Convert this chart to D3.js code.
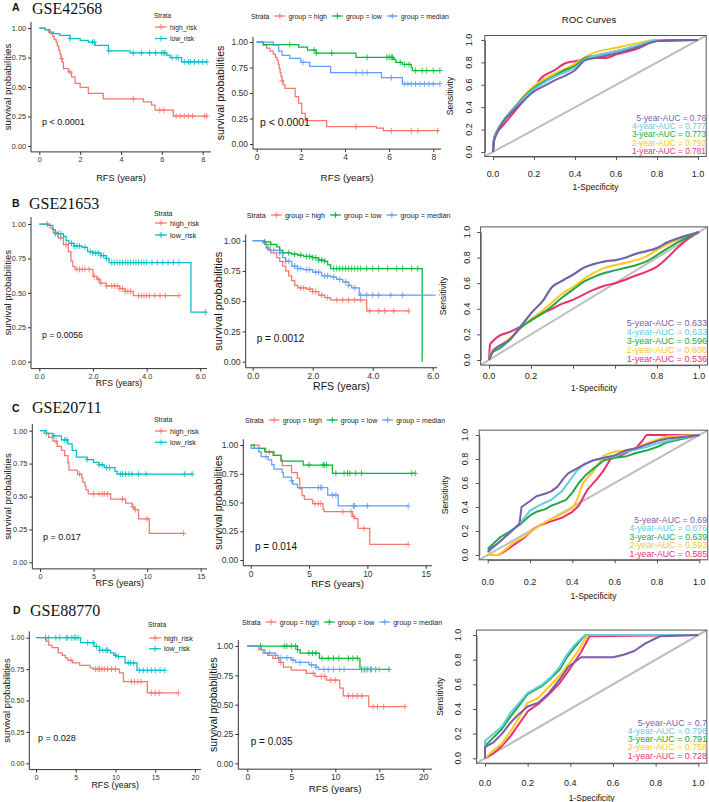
<!DOCTYPE html>
<html><head><meta charset="utf-8">
<script src="https://cdn.jsdelivr.net/npm/d3@7"></script>
<style>body{margin:0;background:#fff}svg{display:block}</style>
</head><body>
<script>
// ======================= DATA =======================
const panelLetters = ["A","B","C","D"];
const datasetNames = ["GSE42568","GSE21653","GSE20711","GSE88770"];
const pValueRisk  = ["p < 0.0001","p = 0.0056","p = 0.017","p = 0.028"];
const pValueGroup = ["p < 0.0001","p = 0.0012","p = 0.014","p = 0.035"];
const rfsTicks = [[0,2,4,6,8],[0,2,4,6],[0,5,10,15],[0,5,10,15,20]];
const survTicks = [0,0.25,0.5,0.75,1];
const rocTicks = [0,0.2,0.4,0.6,0.8,1];
const riskStrata = ["high_risk","low_risk"];
const groupStrata = ["group = high","group = low","group = median"];
const aucYears = ["5-year","4-year","3-year","2-year","1-year"];
const aucA = [0.76,0.777,0.773,0.792,0.781];
const aucB = [0.633,0.633,0.596,0.606,0.536];
const aucC = [0.69,0.676,0.639,0.593,0.585];
const aucD = [0.7,0.798,0.791,0.758,0.728];

// Kaplan-Meier: [time, survival after drop]; censor times; last follow-up time
const kmA_high = [[0.28,0.986],[0.44,0.966],[0.52,0.952],[0.65,0.93],[0.73,0.904],[0.82,0.88],[0.88,0.85],[0.95,0.81],[1.01,0.78],[1.06,0.74],[1.13,0.71],[1.18,0.656],[1.42,0.628],[1.58,0.586],[1.75,0.53],[2.0,0.496],[2.4,0.445],[3.13,0.40],[5.1,0.375],[5.5,0.346],[5.67,0.304],[6.56,0.254]];
const kmA_high_cens = [1.1,1.5,4.6,5.9,6.1,6.7,6.9,7.1,7.3,7.5,8.1,8.2];
const kmA_high_end = 8.25;
const kmA_low = [[0.28,0.986],[0.52,0.966],[0.7,0.952],[1.0,0.938],[1.5,0.91],[2.0,0.896],[2.4,0.88],[2.73,0.853],[3.38,0.806],[4.44,0.789],[6.24,0.77],[6.4,0.75],[6.97,0.713]];
const kmA_low_cens = [1.5,2.6,2.7,3.4,4.6,5.0,5.4,5.7,6.0,6.1,6.15,6.5,6.7,6.8,7.1,7.3,7.4,7.6,7.8,8.0,8.2];
const kmA_low_end = 8.25;
const kmA_gHigh = [[0.3,0.97],[0.45,0.94],[0.6,0.91],[0.75,0.88],[0.85,0.85],[0.92,0.82],[0.98,0.78],[1.02,0.74],[1.06,0.70],[1.1,0.66],[1.15,0.62],[1.2,0.58],[1.28,0.545],[1.74,0.464],[1.9,0.40],[2.04,0.30],[2.2,0.23],[3.17,0.17],[5.43,0.155],[5.74,0.13]];
const kmA_gHigh_cens = [1.15,4.5,6.1,7.0,7.3,8.2];
const kmA_gHigh_end = 8.25;
const kmA_gLow = [[0.3,0.975],[1.9,0.95],[2.3,0.92],[2.7,0.89],[4.5,0.85],[6.2,0.83],[6.3,0.80],[6.6,0.78],[7.0,0.75],[7.05,0.72]];
const kmA_gLow_cens = [1.5,2.6,2.7,3.4,5.0,5.9,6.0,6.1,6.15,6.5,6.7,6.9,7.2,7.5,7.7,8.0,8.3];
const kmA_gLow_end = 8.3;
const kmA_gMed = [[0.75,0.97],[1.0,0.91],[1.15,0.87],[1.5,0.84],[2.0,0.80],[2.4,0.76],[3.35,0.70],[5.65,0.65],[6.6,0.59]];
const kmA_gMed_cens = [2.1,4.5,4.8,5.0,6.1,6.7,6.85,7.0,7.2,7.4,7.6,7.8,8.0,8.3];
const kmA_gMed_end = 8.3;

const kmB_high = [[0.4,0.97],[0.52,0.94],[0.7,0.90],[0.9,0.85],[1.08,0.80],[1.18,0.73],[1.25,0.69],[1.33,0.67],[2.0,0.62],[2.14,0.60],[2.26,0.57],[2.5,0.55],[3.0,0.53],[3.2,0.51],[3.5,0.48]];
const kmB_high_cens = [0.3,0.8,1.0,1.4,1.5,1.6,1.7,1.85,2.05,2.2,2.3,2.5,2.7,2.8,2.9,3.0,3.1,3.2,3.3,3.4,3.7,3.8,3.9,4.0,4.1,4.3,4.5,4.7,5.2];
const kmB_high_end = 5.2;
const kmB_low = [[0.3,0.99],[0.5,0.96],[0.6,0.93],[0.9,0.91],[1.0,0.88],[1.1,0.86],[1.3,0.84],[1.6,0.83],[1.8,0.80],[2.0,0.79],[2.3,0.77],[2.5,0.75],[2.6,0.72],[5.65,0.36]];
const kmB_low_cens = [0.6,0.7,0.8,1.2,1.3,1.4,1.5,1.7,1.9,2.0,2.1,2.2,2.3,2.4,2.5,2.7,2.8,2.9,3.0,3.1,3.2,3.3,3.4,3.5,3.6,3.7,3.8,3.9,4.0,4.2,4.4,4.6,4.8,5.0,5.2,6.2];
const kmB_low_end = 6.2;
const kmB_gHigh = [[0.4,0.97],[0.5,0.93],[0.6,0.90],[0.8,0.86],[0.9,0.83],[1.0,0.79],[1.1,0.75],[1.2,0.71],[1.3,0.67],[1.4,0.63],[1.5,0.61],[1.8,0.60],[2.0,0.58],[2.2,0.55],[2.4,0.53],[2.6,0.51],[3.8,0.42]];
const kmB_gHigh_cens = [1.6,1.7,1.9,2.0,2.1,2.3,2.5,2.8,3.0,3.2,3.4,3.6,3.9,4.2,4.4,4.7,5.2];
const kmB_gHigh_end = 5.2;
const kmB_gLow = [[0.35,0.99],[0.6,0.97],[0.8,0.95],[0.9,0.92],[1.0,0.90],[1.3,0.89],[1.5,0.88],[1.7,0.87],[2.0,0.86],[2.2,0.84],[2.4,0.83],[2.5,0.80],[2.6,0.77],[5.65,0]];
const kmB_gLow_cens = [0.4,0.6,0.9,1.0,1.2,1.4,1.6,1.8,1.9,2.0,2.1,2.2,2.3,2.4,2.7,2.8,2.9,3.0,3.1,3.2,3.3,3.4,3.5,3.6,3.8,4.0,4.2,4.5,4.8,5.0,5.3,5.5];
const kmB_gLow_end = 5.65;
const kmB_gMed = [[0.35,0.98],[0.45,0.94],[0.55,0.92],[0.9,0.90],[1.0,0.86],[1.1,0.83],[1.3,0.79],[1.5,0.77],[1.7,0.76],[2.0,0.74],[2.3,0.71],[2.6,0.70],[2.8,0.68],[3.0,0.66],[3.2,0.63],[3.3,0.61],[3.55,0.55]];
const kmB_gMed_cens = [0.5,0.7,0.9,1.1,1.2,1.4,1.5,1.6,1.8,1.9,2.1,2.2,2.4,2.5,2.7,2.9,3.1,3.2,3.4,3.6,3.8,4.0,4.2,4.6,5.0];
const kmB_gMed_end = 6.1;

const kmC_high = [[0.4,0.98],[0.8,0.95],[1.2,0.92],[1.6,0.88],[2.0,0.85],[2.3,0.81],[2.6,0.76],[2.7,0.70],[3.5,0.67],[3.9,0.64],[4.0,0.61],[4.2,0.58],[4.3,0.55],[4.5,0.52],[6.6,0.48],[8.0,0.45],[8.6,0.42],[8.8,0.40],[9.2,0.33],[10.2,0.22]];
const kmC_high_cens = [1.5,3.7,5.0,5.5,5.8,6.0,6.3,7.7,8.7,8.9,10.0,13.4];
const kmC_high_end = 13.5;
const kmC_low = [[0.6,0.98],[1.2,0.96],[2.0,0.93],[2.6,0.90],[3.0,0.85],[3.4,0.80],[4.4,0.78],[5.0,0.76],[5.5,0.74],[6.0,0.72],[7.0,0.69],[7.2,0.67]];
const kmC_low_cens = [0.6,1.3,2.3,2.5,4.4,5.5,5.8,6.2,6.5,7.5,7.7,8.0,8.3,8.6,9.2,9.9,13.5,14.2];
const kmC_low_end = 14.2;
const kmC_gHigh = [[0.7,0.97],[1.3,0.94],[1.9,0.91],[2.6,0.87],[2.7,0.82],[3.5,0.76],[4.0,0.71],[4.2,0.62],[4.4,0.56],[4.6,0.527],[5.3,0.49],[6.2,0.44],[6.3,0.42],[8.7,0.38],[8.9,0.36],[9.2,0.275],[10.2,0.136]];
const kmC_gHigh_cens = [1.6,5.5,5.8,6.0,7.9,8.6,8.8,9.7,13.5];
const kmC_gHigh_end = 13.5;
const kmC_gLow = [[0.3,0.97],[1.2,0.94],[2.0,0.91],[2.6,0.86],[4.5,0.826],[7.0,0.754]];
const kmC_gLow_cens = [5.0,6.2,6.3,6.5,7.3,8.0,8.3,8.5,9.0,9.5,13.8,14.1];
const kmC_gLow_end = 14.1;
const kmC_gMed = [[0.05,0.97],[0.7,0.94],[0.9,0.90],[1.5,0.87],[1.8,0.83],[2.0,0.79],[2.7,0.76],[2.8,0.72],[3.5,0.69],[3.6,0.66],[4.0,0.63],[6.6,0.565],[7.5,0.47]];
const kmC_gMed_cens = [1.3,3.5,5.8,6.0,6.1,7.0,7.3,8.8,8.9,10.0,13.5];
const kmC_gMed_end = 13.5;

const kmD_high = [[1.3,0.97],[1.6,0.94],[2.0,0.92],[2.8,0.88],[3.3,0.86],[3.7,0.84],[4.0,0.82],[4.6,0.80],[5.5,0.78],[6.8,0.76],[7.2,0.75],[10.5,0.72],[11.0,0.65],[14.0,0.56]];
const kmD_high_cens = [4.4,7.5,7.8,8.0,8.3,8.6,9.0,9.5,10.0,12.0,12.4,12.8,13.2,14.5,15.0,15.5,17.9];
const kmD_high_end = 17.9;
const kmD_low = [[5.6,0.96],[7.3,0.93],[8.0,0.90],[9.4,0.88],[9.8,0.86],[10.2,0.85],[11.2,0.80],[12.7,0.74]];
const kmD_low_cens = [1.2,1.6,2.5,3.0,3.8,4.0,4.5,4.8,5.0,5.3,6.5,7.2,7.6,8.0,8.4,8.8,9.0,10.0,10.4,11.6,11.9,12.3,13.0,13.5,14.0,14.5,15.0,15.6,16.2];
const kmD_low_end = 16.2;
const kmD_gHigh = [[1.3,0.97],[1.8,0.94],[2.3,0.92],[2.9,0.895],[3.6,0.86],[4.1,0.82],[5.0,0.795],[6.7,0.767],[7.7,0.74],[9.0,0.71],[10.5,0.64],[10.9,0.574],[13.8,0.483]];
const kmD_gHigh_cens = [3.8,7.5,8.4,8.8,9.5,10.0,11.5,12.0,12.5,13.0,14.3,14.8,15.5,17.9];
const kmD_gHigh_end = 17.9;
const kmD_gLow = [[5.7,0.97],[6.0,0.94],[8.2,0.895],[12.8,0.80]];
const kmD_gLow_cens = [1.5,4.2,4.5,5.0,5.5,5.7,7.0,7.4,7.8,8.5,9.2,9.8,10.4,11.5,12.0,12.5,13.0,13.3,13.7,14.1,14.6,16.1];
const kmD_gLow_end = 16.1;
const kmD_gMed = [[1.6,0.97],[2.0,0.94],[3.2,0.92],[3.5,0.90],[5.0,0.88],[5.5,0.86],[7.0,0.84],[7.8,0.82],[8.1,0.80]];
const kmD_gMed_cens = [2.5,3.2,3.8,4.5,5.2,6.0,7.3,7.8,8.7,9.2,9.8,10.5,11.0,13.0,13.5,14.0,15.0];
const kmD_gMed_end = 15.0;

// ROC curves: [1-specificity, sensitivity]
const rocA_5 = [[0,0],[0.005,0.1],[0.02,0.17],[0.05,0.27],[0.1,0.37],[0.15,0.46],[0.2,0.54],[0.25,0.59],[0.3,0.64],[0.35,0.68],[0.4,0.73],[0.45,0.82],[0.5,0.84],[0.6,0.88],[0.7,0.93],[0.8,0.99],[0.9,1.0],[1,1]];
const rocA_4 = [[0,0],[0.005,0.12],[0.02,0.18],[0.05,0.28],[0.1,0.38],[0.15,0.48],[0.2,0.56],[0.25,0.62],[0.3,0.67],[0.35,0.71],[0.4,0.75],[0.45,0.83],[0.5,0.86],[0.6,0.90],[0.7,0.95],[0.8,1.0],[1,1]];
const rocA_3 = [[0,0],[0.005,0.12],[0.02,0.19],[0.05,0.28],[0.1,0.39],[0.15,0.49],[0.2,0.57],[0.25,0.63],[0.3,0.68],[0.35,0.73],[0.4,0.77],[0.45,0.84],[0.5,0.86],[0.6,0.90],[0.7,0.94],[0.8,0.99],[1,1]];
const rocA_2 = [[0,0],[0.005,0.12],[0.02,0.18],[0.05,0.27],[0.1,0.38],[0.15,0.50],[0.2,0.59],[0.25,0.65],[0.3,0.70],[0.35,0.74],[0.4,0.79],[0.45,0.85],[0.5,0.89],[0.6,0.93],[0.7,0.97],[0.8,1.0],[1,1]];
const rocA_1 = [[0,0],[0.005,0.1],[0.02,0.17],[0.05,0.24],[0.1,0.35],[0.15,0.46],[0.2,0.56],[0.23,0.65],[0.3,0.73],[0.35,0.79],[0.4,0.81],[0.45,0.83],[0.5,0.84],[0.55,0.84],[0.6,0.87],[0.7,0.92],[0.8,0.99],[1,1]];

const rocB_5 = [[0,0],[0.02,0.07],[0.1,0.16],[0.15,0.26],[0.2,0.365],[0.26,0.47],[0.3,0.57],[0.35,0.62],[0.4,0.667],[0.45,0.72],[0.5,0.75],[0.55,0.77],[0.6,0.78],[0.65,0.80],[0.7,0.83],[0.75,0.85],[0.8,0.875],[0.85,0.92],[0.9,0.95],[1,1]];
const rocB_4 = [[0,0],[0.02,0.07],[0.1,0.16],[0.15,0.26],[0.2,0.365],[0.26,0.47],[0.3,0.57],[0.35,0.62],[0.4,0.667],[0.45,0.72],[0.5,0.75],[0.55,0.77],[0.6,0.78],[0.65,0.80],[0.7,0.83],[0.75,0.85],[0.8,0.875],[0.85,0.92],[0.9,0.95],[1,1]];
const rocB_3 = [[0,0],[0.01,0.05],[0.05,0.09],[0.1,0.16],[0.15,0.25],[0.2,0.31],[0.25,0.36],[0.3,0.42],[0.35,0.49],[0.4,0.55],[0.45,0.61],[0.5,0.65],[0.55,0.68],[0.6,0.70],[0.65,0.72],[0.7,0.74],[0.75,0.77],[0.8,0.82],[0.9,0.92],[1,1]];
const rocB_2 = [[0,0],[0.01,0.07],[0.05,0.11],[0.1,0.17],[0.15,0.25],[0.2,0.32],[0.25,0.38],[0.3,0.45],[0.35,0.52],[0.4,0.57],[0.45,0.63],[0.5,0.68],[0.55,0.72],[0.6,0.74],[0.65,0.76],[0.7,0.78],[0.75,0.81],[0.8,0.86],[0.9,0.94],[1,1]];
const rocB_1 = [[0,0],[0.005,0.12],[0.02,0.15],[0.05,0.19],[0.1,0.22],[0.15,0.26],[0.2,0.31],[0.25,0.36],[0.3,0.40],[0.35,0.44],[0.4,0.47],[0.45,0.51],[0.5,0.55],[0.55,0.58],[0.6,0.60],[0.7,0.66],[0.75,0.69],[0.8,0.73],[0.85,0.80],[0.9,0.88],[0.95,0.95],[1,1]];

const rocC_5 = [[0,0.03],[0.02,0.06],[0.05,0.1],[0.1,0.18],[0.15,0.26],[0.16,0.4],[0.2,0.45],[0.23,0.49],[0.27,0.51],[0.3,0.53],[0.33,0.57],[0.36,0.64],[0.38,0.68],[0.41,0.71],[0.45,0.75],[0.5,0.79],[0.55,0.81],[0.6,0.83],[0.65,0.87],[0.7,0.89],[0.75,0.92],[0.8,0.95],[0.85,0.97],[0.9,0.98],[1,1]];
const rocC_4 = [[0,0.02],[0.05,0.1],[0.1,0.18],[0.15,0.26],[0.2,0.37],[0.25,0.42],[0.3,0.46],[0.35,0.53],[0.38,0.6],[0.42,0.7],[0.46,0.76],[0.5,0.79],[0.55,0.81],[0.6,0.82],[0.65,0.86],[0.7,0.88],[0.75,0.9],[0.8,0.93],[0.85,0.95],[0.9,0.97],[1,1]];
const rocC_3 = [[0,0.05],[0.03,0.1],[0.06,0.15],[0.1,0.19],[0.15,0.25],[0.2,0.33],[0.23,0.36],[0.27,0.38],[0.3,0.41],[0.33,0.43],[0.37,0.46],[0.4,0.52],[0.43,0.6],[0.46,0.66],[0.5,0.72],[0.55,0.79],[0.6,0.81],[0.65,0.82],[0.7,0.85],[0.75,0.87],[0.8,0.9],[0.85,0.94],[0.9,0.96],[0.95,0.98],[1,1]];
const rocC_2 = [[0,0],[0.05,0],[0.08,0.04],[0.12,0.1],[0.17,0.15],[0.2,0.19],[0.25,0.25],[0.3,0.3],[0.35,0.34],[0.4,0.39],[0.42,0.45],[0.45,0.6],[0.5,0.7],[0.55,0.83],[0.6,0.86],[0.65,0.87],[0.7,0.89],[0.75,0.93],[0.8,0.96],[0.85,0.99],[1,1]];
const rocC_1 = [[0,0],[0.05,0],[0.08,0.03],[0.12,0.08],[0.17,0.14],[0.22,0.22],[0.25,0.25],[0.3,0.28],[0.35,0.31],[0.4,0.36],[0.43,0.41],[0.47,0.54],[0.52,0.64],[0.55,0.71],[0.58,0.8],[0.63,0.83],[0.7,0.89],[0.73,0.95],[0.75,1.0],[1,1]];

const rocD_5 = [[0,0],[0,0.09],[0.04,0.13],[0.08,0.2],[0.12,0.29],[0.16,0.36],[0.2,0.42],[0.25,0.45],[0.3,0.53],[0.35,0.64],[0.39,0.74],[0.45,0.82],[0.5,0.82],[0.6,0.82],[0.65,0.84],[0.7,0.87],[0.75,0.93],[0.82,0.99],[1,1]];
const rocD_4 = [[0,0],[0,0.14],[0.04,0.2],[0.08,0.26],[0.12,0.37],[0.16,0.45],[0.2,0.53],[0.23,0.56],[0.27,0.6],[0.31,0.66],[0.35,0.74],[0.38,0.83],[0.42,0.92],[0.47,1.0],[1,1]];
const rocD_3 = [[0,0],[0,0.1],[0.04,0.17],[0.08,0.24],[0.12,0.34],[0.16,0.43],[0.2,0.52],[0.23,0.55],[0.27,0.59],[0.31,0.65],[0.35,0.72],[0.38,0.81],[0.42,0.9],[0.47,1.0],[1,1]];
const rocD_2 = [[0,0],[0.03,0.05],[0.08,0.12],[0.12,0.22],[0.16,0.33],[0.2,0.45],[0.25,0.49],[0.3,0.58],[0.35,0.67],[0.4,0.78],[0.44,0.88],[0.48,1.0],[1,1]];
const rocD_1 = [[0,0],[0.04,0.04],[0.08,0.1],[0.12,0.18],[0.16,0.28],[0.2,0.38],[0.25,0.44],[0.3,0.52],[0.35,0.61],[0.4,0.73],[0.45,0.86],[0.49,0.99],[1,1]];

// ======================= STYLE / LAYOUT =======================
const SANS = '"Liberation Sans", Arial, Helvetica, sans-serif';
const SERIF = '"Liberation Serif", "Times New Roman", serif';
const riskColors = ["#F8766D","#00BFC4"];
const groupColors = ["#F8766D","#00BA38","#619CFF"];
const rocColors = ["#7B5EA7","#63CCE0","#22A847","#FFC61E","#E8316C"];

const layout = [
 { letter:[12,11], title:[32,13.5],
   km1:{ax:31,x0:39.3,xt:202.7,xEnd:211,y1:28,y0:146,yl:7,xl:178,p:[42,122],leg:{x:154,y:15,first:27,dy:11.5},fs:{tick:7.3,xlab:9.2,ylab:9.6,p:9,leg:6.7}},
   km2:{ax:253,x0:256.7,xt:433.3,xEnd:441,y1:42,y0:144,yl:220,xl:177,p:[260,122],leg:{x:251,y:16},fs:{tick:8.5,xlab:9.8,ylab:10.5,p:10.5,leg:6.9}},
   roc:{x0:493,x1:698,y0:152,y1:40,title:[589,19],xlabY:174,specY:187,ylabX:469,sensX:450,tickFs:9,labFs:8.5,legFs:8.3,legRight:706,legBottom:151,legStep:8.3,hide:[],smooth:true}},
 { letter:[12,207], title:[29,209],
   km1:{ax:31,x0:39.3,xt:200.3,xEnd:207,y1:224,y0:361.7,yl:7,xl:383,p:[42,335],leg:{x:154,y:213,first:223,dy:12},fs:{tick:7.3,xlab:8.6,ylab:9.5,p:8.6,leg:7.3}},
   km2:{ax:245.7,x0:252.7,xt:432.7,xEnd:437,y1:240.7,y0:361.7,yl:218,xl:386,p:[256.7,338],leg:{x:246.7,y:215},fs:{tick:8.7,xlab:10.5,ylab:11,p:10,leg:7.2}},
   roc:{x0:489,x1:699,y0:360,y1:232,title:null,xlabY:376,specY:388,ylabX:467,sensX:443,tickFs:9,labFs:8.5,legFs:9,legRight:707,legBottom:358.5,legStep:9,hide:[0.4,0.6],smooth:true}},
 { letter:[12,412], title:[32,413],
   km1:{ax:32.3,x0:40,xt:200.7,xEnd:207,y1:430.7,y0:562.3,yl:7,xl:583,p:[43,537],leg:{x:154,y:419,first:431,dy:11.3},fs:{tick:7.3,xlab:9,ylab:9.6,p:9,leg:7.2}},
   km2:{ax:243.3,x0:250.7,xt:425.7,xEnd:432,y1:445,y0:560,yl:218,xl:583,p:[255,546.7],leg:{x:245,y:420},fs:{tick:8.5,xlab:9.8,ylab:10.5,p:10,leg:7}},
   roc:{x0:487.7,x1:699.3,y0:555,y1:435,title:null,xlabY:582,specY:596,ylabX:465,sensX:445,tickFs:9,labFs:8.5,legFs:8.7,legRight:707,legBottom:554,legStep:8.6,hide:[],smooth:false}},
 { letter:[13,614], title:[30,616],
   km1:{ax:29.3,x0:36,xt:195,xEnd:201,y1:637.7,y0:763.3,yl:6,xl:785,p:[38,738],leg:{x:148,y:624,first:638,dy:10.7},fs:{tick:7,xlab:8.8,ylab:9.4,p:9,leg:7.2}},
   km2:{ax:238.3,x0:247.3,xt:423.3,xEnd:432,y1:646,y0:763.3,yl:213,xl:788,p:[250.7,741],leg:{x:242,y:622},fs:{tick:8.5,xlab:9.8,ylab:10.5,p:10,leg:7}},
   roc:{x0:485,x1:698.3,y0:758.3,y1:635,title:null,xlabY:783,specY:797.5,ylabX:458,sensX:440,tickFs:9,labFs:8.5,legFs:8.9,legRight:707,legBottom:755.5,legStep:8.1,hide:[],smooth:false}}
];

// ======================= ASSEMBLY =======================
const riskSeries = [
 [{steps:kmA_high,cens:kmA_high_cens,end:kmA_high_end},{steps:kmA_low,cens:kmA_low_cens,end:kmA_low_end}],
 [{steps:kmB_high,cens:kmB_high_cens,end:kmB_high_end},{steps:kmB_low,cens:kmB_low_cens,end:kmB_low_end}],
 [{steps:kmC_high,cens:kmC_high_cens,end:kmC_high_end},{steps:kmC_low,cens:kmC_low_cens,end:kmC_low_end}],
 [{steps:kmD_high,cens:kmD_high_cens,end:kmD_high_end},{steps:kmD_low,cens:kmD_low_cens,end:kmD_low_end}]
];
const groupSeries = [
 [{steps:kmA_gHigh,cens:kmA_gHigh_cens,end:kmA_gHigh_end},{steps:kmA_gLow,cens:kmA_gLow_cens,end:kmA_gLow_end},{steps:kmA_gMed,cens:kmA_gMed_cens,end:kmA_gMed_end}],
 [{steps:kmB_gHigh,cens:kmB_gHigh_cens,end:kmB_gHigh_end},{steps:kmB_gLow,cens:kmB_gLow_cens,end:kmB_gLow_end},{steps:kmB_gMed,cens:kmB_gMed_cens,end:kmB_gMed_end}],
 [{steps:kmC_gHigh,cens:kmC_gHigh_cens,end:kmC_gHigh_end},{steps:kmC_gLow,cens:kmC_gLow_cens,end:kmC_gLow_end},{steps:kmC_gMed,cens:kmC_gMed_cens,end:kmC_gMed_end}],
 [{steps:kmD_gHigh,cens:kmD_gHigh_cens,end:kmD_gHigh_end},{steps:kmD_gLow,cens:kmD_gLow_cens,end:kmD_gLow_end},{steps:kmD_gMed,cens:kmD_gMed_cens,end:kmD_gMed_end}]
];
const rocSeries = [
 [rocA_5,rocA_4,rocA_3,rocA_2,rocA_1],
 [rocB_5,rocB_4,rocB_3,rocB_2,rocB_1],
 [rocC_5,rocC_4,rocC_3,rocC_2,rocC_1],
 [rocD_5,rocD_4,rocD_3,rocD_2,rocD_1]
];
const aucValues = [aucA,aucB,aucC,aucD];

const svg = d3.select("body").append("svg").attr("width",709).attr("height",802);
svg.append("rect").attr("width",709).attr("height",802).attr("fill","#fff");

function survAt(steps,t){ let s=1; for(const d of steps){ if(d[0]<=t) s=d[1]; } return s; }
function cross(x,y,h,v){ return `M${x-h},${y}H${x+h}M${x},${y-v}V${y+v}`; }

function drawKM(cfg, xTicks, series, strata, colors, pLabel, legendTop){
  const g = svg.append("g");
  const fs = cfg.fs;
  const last = xTicks[xTicks.length-1];
  const x = d3.scaleLinear().domain([0,last]).range([cfg.x0,cfg.xt]);
  const y = d3.scaleLinear().domain([0,1]).range([cfg.y0,cfg.y1]);
  const ex = 0.05*(cfg.y0-cfg.y1);
  const top = cfg.y1-ex, xb = cfg.y0+ex;

  const xa = g.append("g").attr("transform",`translate(0,${xb})`)
    .call(d3.axisBottom(x).tickValues(xTicks).tickSize(3).tickPadding(2).tickSizeOuter(0));
  xa.select(".domain").remove();
  xa.attr("font-family",SANS).attr("font-size",fs.tick);
  xa.selectAll(".tick line").attr("stroke","#333");
  xa.selectAll("text").attr("fill","#333");
  g.append("line").attr("x1",cfg.ax).attr("x2",cfg.xEnd).attr("y1",xb).attr("y2",xb).attr("stroke","#333").attr("stroke-width",1);

  const ya = g.append("g").attr("transform",`translate(${cfg.ax},0)`)
    .call(d3.axisLeft(y).tickValues(survTicks).tickFormat(d3.format(".2f")).tickSize(3).tickPadding(2).tickSizeOuter(0));
  ya.select(".domain").remove();
  ya.attr("font-family",SANS).attr("font-size",fs.tick);
  ya.selectAll(".tick line").attr("stroke","#333");
  ya.selectAll("text").attr("fill","#333");
  g.append("line").attr("x1",cfg.ax).attr("x2",cfg.ax).attr("y1",top).attr("y2",xb).attr("stroke","#333").attr("stroke-width",1);

  g.append("text").attr("x",(cfg.ax+cfg.xEnd)/2).attr("y",cfg.xl).attr("text-anchor","middle")
    .attr("dominant-baseline","central").attr("font-family",SANS).attr("font-size",fs.xlab).attr("fill","#111").text("RFS (years)");
  g.append("text").attr("transform",`translate(${cfg.yl},${(top+xb)/2}) rotate(-90)`).attr("text-anchor","middle")
    .attr("dominant-baseline","central").attr("font-family",SANS).attr("font-size",fs.ylab).attr("fill","#111").text("survival probabilities");

  const line = d3.line().x(d=>x(d[0])).y(d=>y(d[1])).curve(d3.curveStepAfter);
  series.forEach((s,i)=>{
    const pts = [[0,1]].concat(s.steps);
    pts.push([s.end, pts[pts.length-1][1]]);
    g.append("path").attr("d",line(pts)).attr("fill","none").attr("stroke",colors[i]).attr("stroke-width",1.25);
    g.append("path").attr("d",s.cens.map(t=>cross(x(t),y(survAt(s.steps,t)),2.6,3)).join(""))
      .attr("fill","none").attr("stroke",colors[i]).attr("stroke-width",0.85);
  });

  g.append("text").attr("x",cfg.p[0]).attr("y",cfg.p[1]).attr("dominant-baseline","central")
    .attr("font-family",SANS).attr("font-size",fs.p).attr("fill","#111").text(pLabel);

  const lg = g.append("g").attr("font-family",SANS).attr("fill","#222");
  if(!legendTop){
    lg.append("text").attr("x",cfg.leg.x).attr("y",cfg.leg.y).attr("dominant-baseline","central").attr("font-size",fs.leg*0.95).text("Strata");
    strata.forEach((name,i)=>{
      const yy = cfg.leg.first + i*cfg.leg.dy, xx = cfg.leg.x+1;
      lg.append("line").attr("x1",xx).attr("x2",xx+12).attr("y1",yy).attr("y2",yy).attr("stroke",colors[i]).attr("stroke-width",1.2);
      lg.append("path").attr("d",cross(xx+6,yy,2.6,3)).attr("stroke",colors[i]).attr("stroke-width",0.9);
      lg.append("text").attr("x",xx+15).attr("y",yy).attr("dominant-baseline","central").attr("font-size",fs.leg).text(name);
    });
  } else {
    const t0 = lg.append("text").attr("x",cfg.leg.x).attr("y",cfg.leg.y).attr("dominant-baseline","central").attr("font-size",fs.leg).text("Strata");
    let cur = cfg.leg.x + t0.node().getComputedTextLength() + 5;
    strata.forEach((name,i)=>{
      const yy = cfg.leg.y;
      lg.append("line").attr("x1",cur).attr("x2",cur+11).attr("y1",yy).attr("y2",yy).attr("stroke",colors[i]).attr("stroke-width",1.2);
      lg.append("path").attr("d",cross(cur+5.5,yy,2.6,3)).attr("stroke",colors[i]).attr("stroke-width",0.9);
      const tt = lg.append("text").attr("x",cur+14).attr("y",yy).attr("dominant-baseline","central").attr("font-size",fs.leg).text(name);
      cur += 14 + tt.node().getComputedTextLength() + 5;
    });
  }
}

let clipId = 0;
function drawROC(cfg, curves, aucs){
  const g = svg.append("g");
  const x = d3.scaleLinear().domain([0,1]).range([cfg.x0,cfg.x1]);
  const y = d3.scaleLinear().domain([0,1]).range([cfg.y0,cfg.y1]);
  const left = x(-0.04), right = x(1.04), top = y(1.04), bottom = y(-0.04);
  const id = "clip"+(clipId++);
  svg.append("clipPath").attr("id",id).append("rect").attr("x",left).attr("y",top).attr("width",right-left).attr("height",bottom-top);
  const pg = g.append("g").attr("clip-path",`url(#${id})`);
  pg.append("line").attr("x1",x(-0.04)).attr("y1",y(-0.04)).attr("x2",x(1.04)).attr("y2",y(1.04))
    .attr("stroke","#BEBEBE").attr("stroke-width",2);
  const line = d3.line().x(d=>x(d[0])).y(d=>y(d[1])).curve(cfg.smooth ? d3.curveMonotoneX : d3.curveLinear);
  for(let i=curves.length-1;i>=0;i--){
    pg.append("path").attr("d",line(curves[i])).attr("fill","none").attr("stroke",rocColors[i])
      .attr("stroke-width",2).attr("stroke-linejoin","round");
  }
  g.append("rect").attr("x",left).attr("y",top).attr("width",right-left).attr("height",bottom-top)
    .attr("fill","none").attr("stroke","#555").attr("stroke-width",1);

  const xa = g.append("g").attr("transform",`translate(0,${bottom})`)
    .call(d3.axisBottom(x).tickValues(rocTicks).tickFormat("").tickSize(3.5).tickSizeOuter(0));
  xa.selectAll("path,line").attr("stroke","#555");
  const ya = g.append("g").attr("transform",`translate(${left},0)`)
    .call(d3.axisLeft(y).tickValues(rocTicks).tickFormat("").tickSize(3.5).tickSizeOuter(0));
  ya.selectAll("path,line").attr("stroke","#555");
  const fmt = d3.format(".1f");
  g.selectAll(null).data(rocTicks.filter(t=>!cfg.hide.includes(t))).enter().append("text")
    .attr("x",d=>x(d)).attr("y",cfg.xlabY).attr("text-anchor","middle").attr("dominant-baseline","central")
    .attr("font-family",SANS).attr("font-size",cfg.tickFs).attr("fill","#222").text(fmt);
  g.selectAll(null).data(rocTicks).enter().append("text")
    .attr("transform",d=>`translate(${cfg.ylabX},${y(d)}) rotate(-90)`).attr("text-anchor","middle").attr("dominant-baseline","central")
    .attr("font-family",SANS).attr("font-size",cfg.tickFs).attr("fill","#222").text(fmt);
  g.append("text").attr("x",(left+right)/2).attr("y",cfg.specY).attr("text-anchor","middle").attr("dominant-baseline","central")
    .attr("font-family",SANS).attr("font-size",cfg.labFs).attr("fill","#111").text("1-Specificity");
  g.append("text").attr("transform",`translate(${cfg.sensX},${(top+bottom)/2}) rotate(-90)`).attr("text-anchor","middle").attr("dominant-baseline","central")
    .attr("font-family",SANS).attr("font-size",cfg.labFs).attr("fill","#111").text("Sensitivity");
  if(cfg.title){
    g.append("text").attr("x",cfg.title[0]).attr("y",cfg.title[1]).attr("text-anchor","middle").attr("dominant-baseline","central")
      .attr("font-family",SANS).attr("font-size",9.6).attr("fill","#111").text("ROC Curves");
  }
  aucYears.forEach((yr,i)=>{
    g.append("text").attr("x",cfg.legRight).attr("y",cfg.legBottom-(aucYears.length-1-i)*cfg.legStep)
      .attr("text-anchor","end").attr("dominant-baseline","central").attr("font-family",SANS)
      .attr("font-size",cfg.legFs).attr("fill",rocColors[i]).text(`${yr}-AUC = ${aucs[i]}`);
  });
}

layout.forEach((L,r)=>{
  svg.append("text").attr("x",L.letter[0]).attr("y",L.letter[1]).attr("font-family",SANS).attr("font-weight","bold")
    .attr("font-size",10.5).attr("fill","#111").text(panelLetters[r]);
  svg.append("text").attr("x",L.title[0]).attr("y",L.title[1]).attr("font-family",SERIF)
    .attr("font-size",16).attr("fill","#111").text(datasetNames[r]);
  drawKM(L.km1, rfsTicks[r], riskSeries[r], riskStrata, riskColors, pValueRisk[r], false);
  drawKM(L.km2, rfsTicks[r], groupSeries[r], groupStrata, groupColors, pValueGroup[r], true);
  drawROC(L.roc, rocSeries[r], aucValues[r]);
});
</script>
</body></html>
